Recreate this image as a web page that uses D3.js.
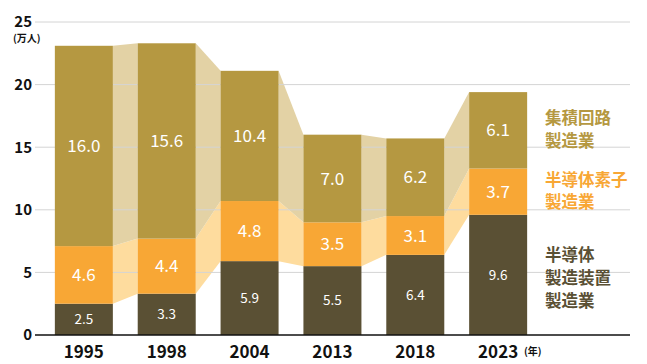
<!DOCTYPE html>
<html><head><meta charset="utf-8">
<script src="https://cdn.jsdelivr.net/npm/d3@7"></script>
<style>body{margin:0;background:#fff}svg{display:block;font-family:"Noto Sans CJK JP","Noto Sans",sans-serif}</style>
</head><body><svg id="c" width="647" height="364"></svg>
<script>
const years = ["1995","1998","2004","2013","2018","2023"];
const equipment = [2.5,3.3,5.9,5.5,6.4,9.6];
const devices = [4.6,4.4,4.8,3.5,3.1,3.7];
const circuits = [16.0,15.6,10.4,7.0,6.2,6.1];
const yTicks = [0,5,10,15,20,25];
const seriesNames = [["半導体","製造装置","製造業"],["半導体素子","製造業"],["集積回路","製造業"]];
const colors = ["#5a5034","#f8a735","#b59841"];
const bandColors = [null,"#fedc9e","#e3d2a5"];

const svg = d3.select("#c");
const x = d3.scaleBand().domain(years).range([30,552]).paddingInner(0.3).paddingOuter(0.3);
const y = d3.scaleLinear().domain([0,25]).range([335,22]);

const series = [equipment,devices,circuits];
const stacks = years.map((yr,i)=>{let c=0;return series.map(s=>{const y0=c;c+=s[i];return {y0,y1:c,v:s[i]};});});

// bands
for(let k=1;k<3;k++){
  for(let i=0;i<years.length-1;i++){
    const a=stacks[i][k], b=stacks[i+1][k];
    const xa=x(years[i])+x.bandwidth(), xb=x(years[i+1]);
    svg.append("path").attr("fill",bandColors[k])
      .attr("d",`M${xa},${y(a.y1)}L${xb},${y(b.y1)}L${xb},${y(b.y0)}L${xa},${y(a.y0)}Z`);
  }
}
// grid
svg.append("g").selectAll("line").data(yTicks.filter(d=>d>0)).join("line")
  .attr("x1",35).attr("x2",630).attr("y1",d=>y(d)).attr("y2",d=>y(d))
  .attr("stroke","#d4d4d4").attr("stroke-width",1);
// bars
years.forEach((yr,i)=>{
  stacks[i].forEach((s,k)=>{
    svg.append("rect").attr("x",x(yr)).attr("width",x.bandwidth())
      .attr("y",y(s.y1)).attr("height",y(s.y0)-y(s.y1)).attr("fill",colors[k]);
    svg.append("text").attr("x",x(yr)+x.bandwidth()/2).attr("y",(y(s.y0)+y(s.y1))/2)
      .attr("dy","0.36em").attr("text-anchor","middle").attr("fill","#fff")
      .attr("font-size",k===0?13.5:17).text(s.v.toFixed(1));
  });
});
// baseline
svg.append("line").attr("x1",35).attr("x2",630).attr("y1",y(0)).attr("y2",y(0)).attr("stroke","#111").attr("stroke-width",1.5);
// y ticks
svg.append("g").selectAll("text").data(yTicks).join("text")
  .attr("x",32).attr("y",d=>y(d)).attr("dy","0.36em").attr("text-anchor","end")
  .attr("font-size",15).attr("font-weight","bold").attr("fill","#111").text(d=>d);
svg.append("text").attr("x",13).attr("y",42).attr("font-size",10).attr("font-weight","bold").attr("fill","#111").text("(万人)");
// x labels
svg.append("g").selectAll("text").data(years).join("text")
  .attr("x",d=>x(d)+x.bandwidth()/2).attr("y",358).attr("text-anchor","middle")
  .attr("font-size",17).attr("font-weight","bold").attr("fill","#111").text(d=>d);
svg.append("text").attr("x",524).attr("y",355).attr("font-size",10).attr("font-weight","bold").attr("fill","#111").text("(年)");
// legend
const legY = [[261,284,307],[186,208],[124,147]];
seriesNames.forEach((lines,k)=>{
  lines.forEach((t,j)=>{
    svg.append("text").attr("x",545).attr("y",legY[k][j]).attr("font-size",16.5).attr("font-weight","bold")
      .attr("fill",colors[k]).text(t);
  });
});
</script></body></html>
